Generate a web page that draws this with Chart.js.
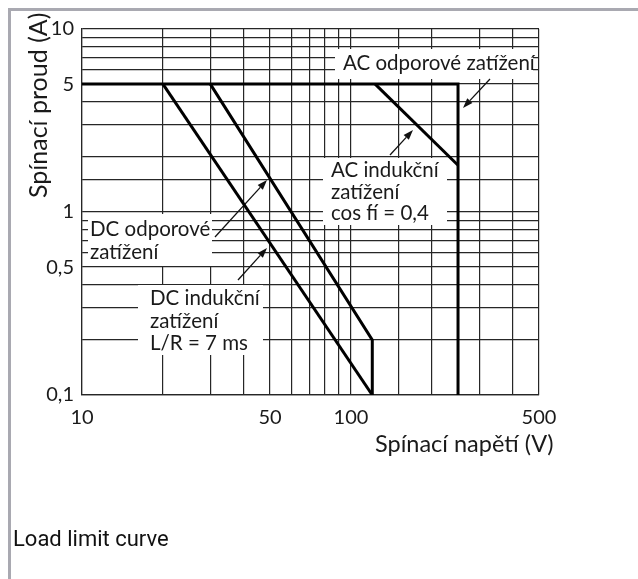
<!DOCTYPE html>
<html>
<head>
<meta charset="utf-8">
<script src="https://cdn.jsdelivr.net/npm/chart.js@4/dist/chart.umd.min.js"></script>
<style>
html,body{margin:0;padding:0;background:#fff;}
#wrap{position:relative;width:638px;height:579px;overflow:hidden;background:#fff;}
#frameTop{position:absolute;left:8px;top:8px;width:630px;height:3px;background:#a9a9b1;}
#frameLeft{position:absolute;left:8px;top:8px;width:3px;height:571px;background:#a9a9b1;}
#caption{position:absolute;left:13px;top:528px;font-family:Roboto,sans-serif;font-size:22px;line-height:22px;color:#111;white-space:nowrap;}
#c{position:absolute;left:0;top:0;}
</style>
</head>
<body>
<div id="wrap">
  <canvas id="c" width="638" height="579"></canvas>
  <div id="frameTop"></div>
  <div id="frameLeft"></div>
  <div id="caption">Load limit curve</div>
</div>
<script>
// ---- data (voltage V, current A) ----
const acResVoltage = [10, 250, 250];
const acResCurrent = [5, 5, 0.1];
const acIndVoltage = [123, 250];
const acIndCurrent = [5, 1.8];
const dcResVoltage = [30, 120, 120];
const dcResCurrent = [5, 0.2, 0.1];
const dcIndVoltage = [20, 120];
const dcIndCurrent = [5, 0.1];

const xTickValues = [10, 50, 100, 500];
const xTickLabels = ['10', '50', '100', '500'];
const yTickValues = [0.1, 0.5, 1, 5, 10];
const yTickLabels = ['0,1', '0,5', '1', '5', '10'];

const xTitle = 'Spínací napětí (V)';
const yTitle = 'Spínací proud (A)';

const acResLabel = ['AC odporové zatížení'];
const acIndLabel = ['AC indukční', 'zatížení', 'cos fí = 0,4'];
const dcResLabel = ['DC odporové', 'zatížení'];
const dcIndLabel = ['DC indukční', 'zatížení', 'L/R = 7 ms'];

function pts(xs, ys) { return xs.map((x, i) => ({x: x, y: ys[i]})); }
function lookup(v, vals, labels) {
  for (let i = 0; i < vals.length; i++) {
    if (Math.abs(v - vals[i]) / vals[i] < 1e-6) return labels[i];
  }
  return '';
}

// annotation layout (pixels)
const annotations = [
  {lines: acResLabel, box: [335, 49, 533, 79], tx: 343, base: 70, step: 22, arrow: [490, 79, 463, 108]},
  {lines: acIndLabel, box: [323, 158, 447, 225], tx: 331, base: 177, step: 21.5, arrow: [390, 155, 413, 130]},
  {lines: dcResLabel, box: [88, 214, 212, 266], tx: 90, base: 236, step: 23, arrow: [215, 237, 267, 180]},
  {lines: dcIndLabel, box: [138, 285, 263, 355], tx: 150, base: 305, step: 22.5, arrow: [238, 280, 267, 248]}
];
const TEXT = '#1a1a1a';
const LABEL_FONT = '20.5px Lato';

function arrow(ctx, x1, y1, x2, y2) {
  const ang = Math.atan2(y2 - y1, x2 - x1);
  const L = 10, W = 3.5;
  const bx = x2 - L * Math.cos(ang), by = y2 - L * Math.sin(ang);
  ctx.beginPath();
  ctx.moveTo(x1, y1);
  ctx.lineTo(bx, by);
  ctx.strokeStyle = '#111';
  ctx.lineWidth = 1.3;
  ctx.stroke();
  ctx.beginPath();
  ctx.moveTo(x2, y2);
  ctx.lineTo(bx + W * Math.sin(ang), by - W * Math.cos(ang));
  ctx.lineTo(bx - W * Math.sin(ang), by + W * Math.cos(ang));
  ctx.closePath();
  ctx.fillStyle = '#111';
  ctx.fill();
}

const annotationPlugin = {
  id: 'notes',
  beforeDatasetsDraw(chart) {
    const ctx = chart.ctx;
    ctx.save();
    annotations.forEach(a => {
      ctx.fillStyle = '#fff';
      ctx.fillRect(a.box[0], a.box[1], a.box[2] - a.box[0], a.box[3] - a.box[1]);
    });
    ctx.fillStyle = TEXT;
    ctx.font = LABEL_FONT;
    ctx.textAlign = 'left';
    ctx.textBaseline = 'alphabetic';
    annotations.forEach(a => {
      a.lines.forEach((t, i) => ctx.fillText(t, a.tx, a.base + i * a.step));
    });
    annotations.forEach(a => arrow(ctx, a.arrow[0], a.arrow[1], a.arrow[2], a.arrow[3]));
    ctx.restore();
  },
  afterDraw(chart) {
    const ctx = chart.ctx;
    ctx.save();
    ctx.fillStyle = TEXT;
    ctx.textAlign = 'left';
    ctx.textBaseline = 'alphabetic';
    ctx.font = '23.5px Lato';
    ctx.fillText(xTitle, 375, 452);
    ctx.font = '25px Lato';
    ctx.translate(47, 198);
    ctx.rotate(-Math.PI / 2);
    ctx.fillText(yTitle, 0, 0);
    ctx.restore();
  }
};

function lineDs(label, xs, ys) {
  return {
    label: label,
    data: pts(xs, ys),
    showLine: true,
    borderColor: '#000',
    backgroundColor: '#000',
    borderWidth: 3,
    pointRadius: 0,
    pointHoverRadius: 0,
    fill: false,
    tension: 0,
    borderJoinStyle: 'miter',
    borderCapStyle: 'butt'
  };
}

function build() {
  new Chart(document.getElementById('c'), {
    type: 'scatter',
    data: {
      datasets: [
        lineDs('AC odporové zatížení', acResVoltage, acResCurrent),
        lineDs('AC indukční zatížení', acIndVoltage, acIndCurrent),
        lineDs('DC odporové zatížení', dcResVoltage, dcResCurrent),
        lineDs('DC indukční zatížení', dcIndVoltage, dcIndCurrent)
      ]
    },
    options: {
      responsive: false,
      animation: false,
      events: [],
      layout: {padding: {left: 0, top: 29, right: 99, bottom: 0}},
      plugins: {legend: {display: false}, tooltip: {enabled: false}},
      scales: {
        x: {
          type: 'logarithmic', min: 10, max: 500, position: 'bottom',
          grid: {color: '#262626', lineWidth: 1.2, drawTicks: false},
          border: {color: '#262626', width: 1.2},
          ticks: {
            autoSkip: false, maxRotation: 0, minRotation: 0, padding: 11,
            color: TEXT, font: {family: 'Lato', size: 20},
            callback: (v) => lookup(v, xTickValues, xTickLabels)
          },
          afterFit: (s) => { s.height = 184; }
        },
        y: {
          type: 'logarithmic', min: 0.1, max: 10, position: 'left',
          grid: {color: '#262626', lineWidth: 1.2, drawTicks: false},
          border: {color: '#262626', width: 1.2},
          ticks: {
            autoSkip: false, padding: 8,
            color: TEXT, font: {family: 'Lato', size: 20},
            callback: (v) => lookup(v, yTickValues, yTickLabels)
          },
          afterFit: (s) => { s.width = 82; }
        }
      }
    },
    plugins: [annotationPlugin]
  });
}

if (document.fonts && document.fonts.load) {
  Promise.all([document.fonts.load('21px Lato'), document.fonts.load('22px Roboto')])
    .then(build, build);
} else {
  build();
}
</script>
</body>
</html>
